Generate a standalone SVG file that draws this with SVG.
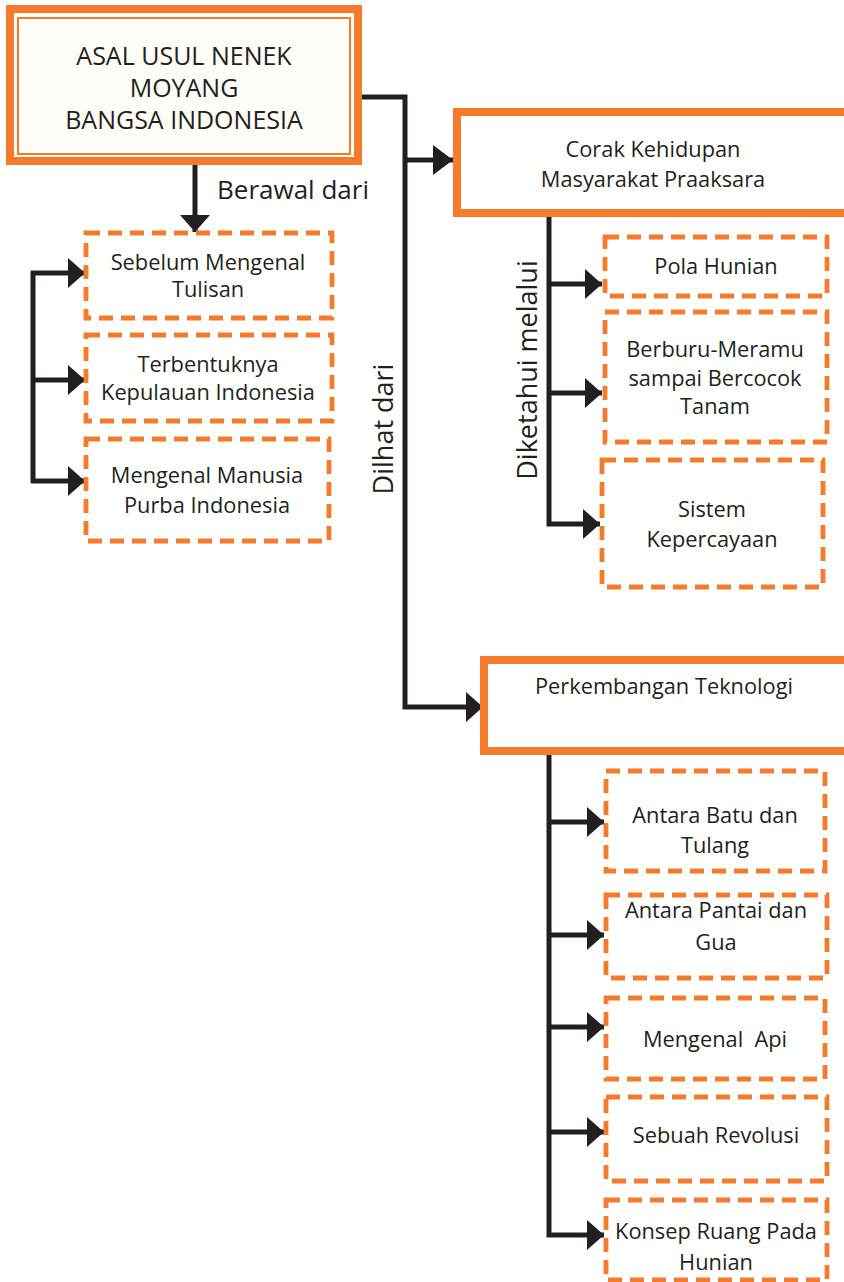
<svg xmlns="http://www.w3.org/2000/svg" width="844" height="1282" viewBox="0 0 844 1282">
<defs>
<style>
.t{font-family:"Open Sans","Liberation Sans",sans-serif;fill:#231f20;text-anchor:middle;white-space:pre}
.s22{font-size:21.8px}
.s25{font-size:25px}
.s26{font-size:26px}
.s27{font-size:27px}
.solid{fill:#fff;stroke:#f47a2c;stroke-width:8}
.dash{fill:#fff;stroke:#f47a2c;stroke-width:4.8;stroke-dasharray:14 8}
.ln{fill:none;stroke:#231f20;stroke-width:5}
</style>
<marker id="ah" markerUnits="userSpaceOnUse" markerWidth="17" markerHeight="30" refX="17" refY="15" orient="auto" viewBox="0 0 17 30">
<path d="M0,0 L17,15 L0,30 z" fill="#231f20"/>
</marker>
<marker id="ahL" markerUnits="userSpaceOnUse" markerWidth="20" markerHeight="30" refX="20" refY="15" orient="auto" viewBox="0 0 20 30">
<path d="M0,0 L20,15 L0,30 z" fill="#231f20"/>
</marker>
</defs>
<rect width="844" height="1282" fill="#fff"/>

<g id="connectors">
<path class="ln" d="M358,97 H405 V707 H483" marker-end="url(#ah)"/>
<path class="ln" d="M405,160 H453" marker-end="url(#ahL)"/>
<path class="ln" d="M195,165 V232" marker-end="url(#ah)"/>
<path class="ln" d="M33,271 V483"/>
<path class="ln" d="M31,273 H85" marker-end="url(#ah)"/>
<path class="ln" d="M33,380 H85" marker-end="url(#ah)"/>
<path class="ln" d="M31,481 H85" marker-end="url(#ah)"/>
<path class="ln" d="M549,217 V524 H600" marker-end="url(#ah)"/>
<path class="ln" d="M549,284 H602" marker-end="url(#ah)"/>
<path class="ln" d="M549,393 H602" marker-end="url(#ah)"/>
<path class="ln" d="M549,755 V1235 H604" marker-end="url(#ah)"/>
<path class="ln" d="M549,822 H604" marker-end="url(#ah)"/>
<path class="ln" d="M549,935 H604" marker-end="url(#ah)"/>
<path class="ln" d="M549,1027 H604" marker-end="url(#ah)"/>
<path class="ln" d="M549,1132 H604" marker-end="url(#ah)"/>
<text class="t s26" x="293" y="199">Berawal dari</text>
<text class="t s27" transform="translate(393,429) rotate(-90)" x="0" y="0">Dilhat dari</text>
<text class="t s27" transform="translate(537,370) rotate(-90)" x="0" y="0">Diketahui melalui</text>
</g>

<g id="root">
<rect x="10" y="9" width="348" height="152" fill="#fffdf7" stroke="#f47a2c" stroke-width="8"/>
<rect x="18" y="18" width="332" height="136" fill="none" stroke="#f47a2c" stroke-width="2"/>
<text class="t s25" x="184" y="65">ASAL USUL NENEK</text>
<text class="t s25" x="184" y="97">MOYANG</text>
<text class="t s25" x="184" y="129">BANGSA INDONESIA</text>
</g>

<g id="sebelum">
<rect class="dash" x="86" y="233" width="246" height="85"/>
<text class="t s22" x="208" y="270">Sebelum Mengenal</text>
<text class="t s22" x="208" y="297">Tulisan</text>
</g>
<g id="terbentuknya">
<rect class="dash" x="86" y="335" width="246" height="86"/>
<text class="t s22" x="208" y="372">Terbentuknya</text>
<text class="t s22" x="208" y="400">Kepulauan Indonesia</text>
</g>
<g id="manusia">
<rect class="dash" x="86" y="439" width="243" height="102"/>
<text class="t s22" x="207" y="483">Mengenal Manusia</text>
<text class="t s22" x="207" y="513">Purba Indonesia</text>
</g>

<g id="corak">
<rect class="solid" x="457" y="112" width="400" height="101"/>
<text class="t s22" x="653" y="157">Corak Kehidupan</text>
<text class="t s22" x="653" y="187">Masyarakat Praaksara</text>
</g>
<g id="pola">
<rect class="dash" x="605" y="237" width="222" height="59"/>
<text class="t s22" x="716" y="274">Pola Hunian</text>
</g>
<g id="berburu">
<rect class="dash" x="605" y="312" width="222" height="130"/>
<text class="t s22" x="715" y="357">Berburu-Meramu</text>
<text class="t s22" x="715" y="386">sampai Bercocok</text>
<text class="t s22" x="715" y="414">Tanam</text>
</g>
<g id="sistem">
<rect class="dash" x="602" y="460" width="221" height="127"/>
<text class="t s22" x="712" y="517">Sistem</text>
<text class="t s22" x="712" y="547">Kepercayaan</text>
</g>

<g id="perkembangan">
<rect class="solid" x="484" y="660" width="380" height="91"/>
<text class="t s22" x="664" y="694">Perkembangan Teknologi</text>
</g>
<g id="batu">
<rect class="dash" x="606" y="771" width="219" height="100"/>
<text class="t s22" x="715" y="823">Antara Batu dan</text>
<text class="t s22" x="715" y="853">Tulang</text>
</g>
<g id="pantai">
<rect class="dash" x="606" y="895" width="221" height="83"/>
<text class="t s22" x="716" y="918">Antara Pantai dan</text>
<text class="t s22" x="716" y="950">Gua</text>
</g>
<g id="api">
<rect class="dash" x="606" y="998" width="219" height="81"/>
<text class="t s22" x="715" y="1047">Mengenal  Api</text>
</g>
<g id="revolusi">
<rect class="dash" x="606" y="1097" width="221" height="84"/>
<text class="t s22" x="716" y="1143">Sebuah Revolusi</text>
</g>
<g id="konsep">
<rect class="dash" x="606" y="1200" width="221" height="80"/>
<text class="t s22" x="716" y="1239">Konsep Ruang Pada</text>
<text class="t s22" x="716" y="1270">Hunian</text>
</g>
</svg>
